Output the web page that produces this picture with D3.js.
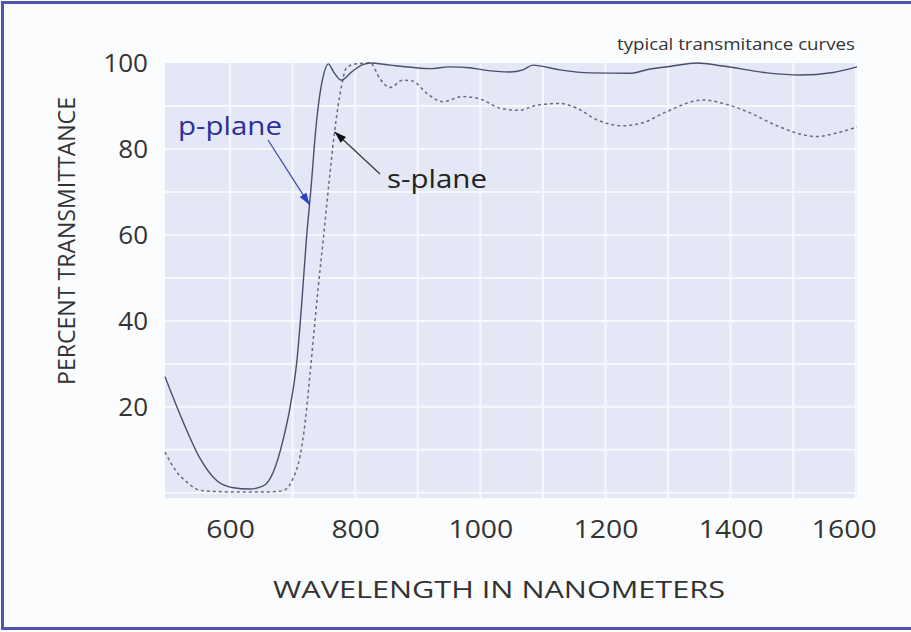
<!DOCTYPE html>
<html>
<head>
<meta charset="utf-8">
<script src="https://cdn.jsdelivr.net/npm/d3@7"></script>
<style>
  html, body { margin: 0; padding: 0; background: #fbfcfe; }
  svg { display: block; }
  text { font-family: "Open Sans", "Noto Sans", sans-serif; }
</style>
</head>
<body>
<svg id="chart" width="911" height="632"></svg>
<script>
// Transmittance of a polarizing filter, p- and s-plane, wavelength in nm vs %.
const pWavelength = [496, 525, 552, 579, 605, 632, 653, 669, 685, 696, 707, 715, 722, 730, 736, 741, 749, 757, 766, 778, 795, 812, 824, 856, 890, 920, 951, 983, 1004, 1047, 1068, 1084, 1127, 1175, 1239, 1271, 1303, 1346, 1388, 1458, 1511, 1564, 1602];
const pTransmittance = [27, 16.5, 8, 2.8, 1.2, 0.9, 1.6, 4.8, 12.5, 20, 31, 45, 59, 72, 83, 90, 97, 99.8, 97.8, 96, 98, 99.6, 100, 99.5, 99, 98.7, 99.1, 98.9, 98.4, 97.9, 98.4, 99.5, 98.4, 97.7, 97.6, 98.6, 99.2, 100, 99.3, 97.7, 97.2, 97.8, 99.1];

const sWavelength = [496, 515, 531, 552, 580, 605, 658, 680, 690, 700, 712, 720, 728, 733, 741, 749, 758, 767, 778, 786, 802, 824, 840, 856, 876, 892, 914, 940, 972, 1004, 1031, 1063, 1090, 1127, 1154, 1186, 1228, 1260, 1298, 1356, 1388, 1431, 1474, 1537, 1569, 1602];
const sTransmittance = [9.5, 4.8, 2.5, 0.6, 0.3, 0.2, 0.2, 0.4, 0.9, 3.2, 8.6, 16.4, 28, 35.7, 48, 59, 72, 84, 94.5, 98.9, 99.8, 100, 96.2, 94.3, 96, 95.8, 93, 91, 92.2, 91.4, 89.5, 89, 90.2, 90.6, 89.5, 86.8, 85.4, 86.1, 88.7, 91.4, 90.6, 88.4, 85.4, 82.9, 83.7, 85.1];

const xTickValues = [600, 800, 1000, 1200, 1400, 1600];
const yTickValues = [20, 40, 60, 80, 100];
const xGridValues = [600, 700, 800, 900, 1000, 1100, 1200, 1300, 1400, 1500, 1600];
const yGridValues = [0, 10, 20, 30, 40, 50, 60, 70, 80, 90];

const chartTitle = "typical transmitance curves";
const xTitle = "WAVELENGTH IN NANOMETERS";
const yTitle = "PERCENT TRANSMITTANCE";
const pLabel = "p-plane";
const sLabel = "s-plane";

const svg = d3.select("#chart");
const plot = { left: 165, top: 63, right: 857, bottom: 498 };

const x = d3.scaleLinear().domain([496, 1602]).range([plot.left, plot.right]);
const y = d3.scaleLinear().domain([-1.2, 100]).range([plot.bottom, plot.top]);

// outer frame
svg.append("rect")
  .attr("x", 2.5).attr("y", 2.5).attr("width", 930).attr("height", 626)
  .attr("fill", "none").attr("stroke", "#4d56b3").attr("stroke-width", 3);

// plot background
svg.append("rect")
  .attr("x", plot.left).attr("y", plot.top)
  .attr("width", plot.right - plot.left).attr("height", plot.bottom - plot.top)
  .attr("fill", "#e4e8f6");

// white grid
const grid = svg.append("g").attr("stroke", "#f7f8fd").attr("stroke-width", 2);
grid.selectAll("line.v").data(xGridValues).join("line")
  .attr("class", "v")
  .attr("x1", d => x(d)).attr("x2", d => x(d))
  .attr("y1", plot.top).attr("y2", plot.bottom);
grid.selectAll("line.h").data(yGridValues).join("line")
  .attr("class", "h")
  .attr("x1", plot.left).attr("x2", plot.right)
  .attr("y1", d => y(d)).attr("y2", d => y(d));

// axes (labels only)
const fmt = d3.format("d");
const yAxis = svg.append("g")
  .attr("transform", `translate(${plot.left},0)`)
  .call(d3.axisLeft(y).tickValues(yTickValues).tickFormat(fmt).tickSize(0).tickPadding(17));
const xAxis = svg.append("g")
  .attr("transform", `translate(0,${plot.bottom})`)
  .call(d3.axisBottom(x).tickValues(xTickValues).tickFormat(fmt).tickSize(0).tickPadding(22));
[yAxis, xAxis].forEach(a => {
  a.select(".domain").remove();
  a.selectAll("text").attr("font-size", 26).attr("fill", "#333")
    .attr("font-family", "'Open Sans', sans-serif");
});
// slightly wider numerals on the wavelength axis
xAxis.selectAll(".tick text")
  .attr("textLength", d => String(d).length * 16.2)
  .attr("lengthAdjust", "spacingAndGlyphs");
// last wavelength label sits a little inside the plot edge
xAxis.selectAll(".tick text").filter(d => d === 1600).attr("x", -12);

// curves
const line = d3.line().curve(d3.curveMonotoneX).x(d => x(d[0])).y(d => y(d[1]));
const pData = d3.zip(pWavelength, pTransmittance);
const sData = d3.zip(sWavelength, sTransmittance);

svg.append("path").datum(sData)
  .attr("d", line).attr("fill", "none")
  .attr("stroke", "#686b7c").attr("stroke-width", 1.5)
  .attr("stroke-dasharray", "3,3");
svg.append("path").datum(pData)
  .attr("d", line).attr("fill", "none")
  .attr("stroke", "#4a4e6c").attr("stroke-width", 1.4);

// arrow markers
const defs = svg.append("defs");
function marker(id, color) {
  defs.append("marker").attr("id", id)
    .attr("viewBox", "0 0 12 8").attr("refX", 12).attr("refY", 4)
    .attr("markerWidth", 12).attr("markerHeight", 8)
    .attr("markerUnits", "userSpaceOnUse").attr("orient", "auto")
    .append("path").attr("d", "M0,0 L12,4 L0,8 Z").attr("fill", color);
}
marker("arrowP", "#2f3fc4");
marker("arrowS", "#111");

// p-plane label and arrow to the solid curve
svg.append("text").attr("x", 178).attr("y", 135)
  .attr("font-size", 26).attr("fill", "#2d2f9c")
  .attr("textLength", 104).attr("lengthAdjust", "spacingAndGlyphs")
  .text(pLabel);
svg.append("line")
  .attr("x1", 268).attr("y1", 140).attr("x2", x(727)).attr("y2", y(67))
  .attr("stroke", "#3b45a8").attr("stroke-width", 1.2)
  .attr("marker-end", "url(#arrowP)");

// s-plane label and arrow to the dashed curve
svg.append("text").attr("x", 387).attr("y", 188)
  .attr("font-size", 26).attr("fill", "#222")
  .attr("textLength", 100).attr("lengthAdjust", "spacingAndGlyphs")
  .text(sLabel);
svg.append("line")
  .attr("x1", 380).attr("y1", 174).attr("x2", x(767)).attr("y2", y(84))
  .attr("stroke", "#333").attr("stroke-width", 1.2)
  .attr("marker-end", "url(#arrowS)");

// titles
svg.append("text").attr("x", 855).attr("y", 50).attr("text-anchor", "end")
  .attr("font-size", 16).attr("fill", "#333")
  .attr("textLength", 238).attr("lengthAdjust", "spacingAndGlyphs")
  .text(chartTitle);

svg.append("text")
  .attr("x", 273).attr("y", 598)
  .attr("font-size", 24).attr("fill", "#333")
  .attr("textLength", 452).attr("lengthAdjust", "spacingAndGlyphs")
  .text(xTitle);

svg.append("text")
  .attr("transform", "translate(75,385) rotate(-90)")
  .attr("font-size", 24).attr("fill", "#333")
  .attr("textLength", 288).attr("lengthAdjust", "spacingAndGlyphs")
  .text(yTitle);
</script>
</body>
</html>
